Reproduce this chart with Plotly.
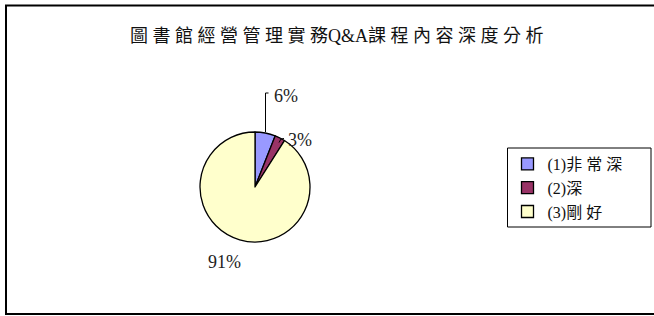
import plotly.graph_objects as go

W, H = 654, 316

categories = ["(1)非 常 深", "(2)深", "(3)剛 好"]
values = [6, 3, 91]
colors = ["#9999FF", "#993366", "#FFFFCC"]
title_text = "圖 書 館 經 營 管 理 實 務Q&A課 程 內 容 深 度 分 析"

FONT = "Liberation Serif, Noto Sans CJK TC, serif"

def px(x):
    return x / W

def py(y):
    return 1 - y / H

cx, cy, r = 255, 187, 55

fig = go.Figure(go.Pie(
    labels=categories,
    values=values,
    sort=False,
    direction="clockwise",
    rotation=0,
    textinfo="none",
    hoverinfo="label+percent",
    marker=dict(colors=colors, line=dict(color="black", width=1.3)),
    domain=dict(x=[px(cx - r), px(cx + r)], y=[py(cy + r), py(cy - r)]),
))

total = sum(values)
pct = [f"{round(v * 100 / total)}%" for v in values]
label_pos = [(272, 96), (286, 140), (206, 262)]
annotations = []
for t, (lx, ly) in zip(pct, label_pos):
    annotations.append(dict(
        text=t, x=px(lx), y=py(ly), xref="paper", yref="paper",
        xanchor="left", yanchor="middle", showarrow=False,
        font=dict(family=FONT, size=18, color="#222"),
    ))
annotations.append(dict(
    text=title_text, x=px(337), y=py(36), xref="paper", yref="paper",
    xanchor="center", yanchor="middle", showarrow=False,
    font=dict(family=FONT, size=18, color="#111"),
))

shapes = [
    dict(type="path", xref="paper", yref="paper",
         path=f"M {px(W + 40)} {py(5.5)} L {px(6)} {py(5.5)} L {px(6)} {py(314)} L {px(W + 40)} {py(314)}",
         line=dict(color="black", width=2), layer="below"),
    dict(type="path", xref="paper", yref="paper",
         path=f"M {px(265.5)} {py(cy - r)} L {px(265.5)} {py(93)} L {px(268.5)} {py(93)}",
         line=dict(color="black", width=1)),
    dict(type="path", xref="paper", yref="paper",
         path=f"M {px(279)} {py(142.5)} L {px(281)} {py(139)} L {px(284)} {py(138.5)}",
         line=dict(color="black", width=1)),
    # legend frame
    dict(type="rect", xref="paper", yref="paper",
         x0=px(507.5), x1=px(651), y0=py(227), y1=py(148),
         line=dict(color="black", width=1), layer="below"),
]

fig.update_layout(
    width=W, height=H,
    margin=dict(l=0, r=0, t=0, b=0),
    paper_bgcolor="white",
    plot_bgcolor="white",
    annotations=annotations,
    shapes=shapes,
    legend=dict(
        x=px(507.5), y=py(147), xanchor="left", yanchor="top",
        borderwidth=0, bgcolor="rgba(0,0,0,0)",
        font=dict(family=FONT, size=16, color="#111"),
        tracegroupgap=0,
    ),
    showlegend=True,
)

fig.write_html("out.html", config={"displayModeBar": False},
               post_script="document.body.style.margin='0';document.body.style.overflow='hidden';")
